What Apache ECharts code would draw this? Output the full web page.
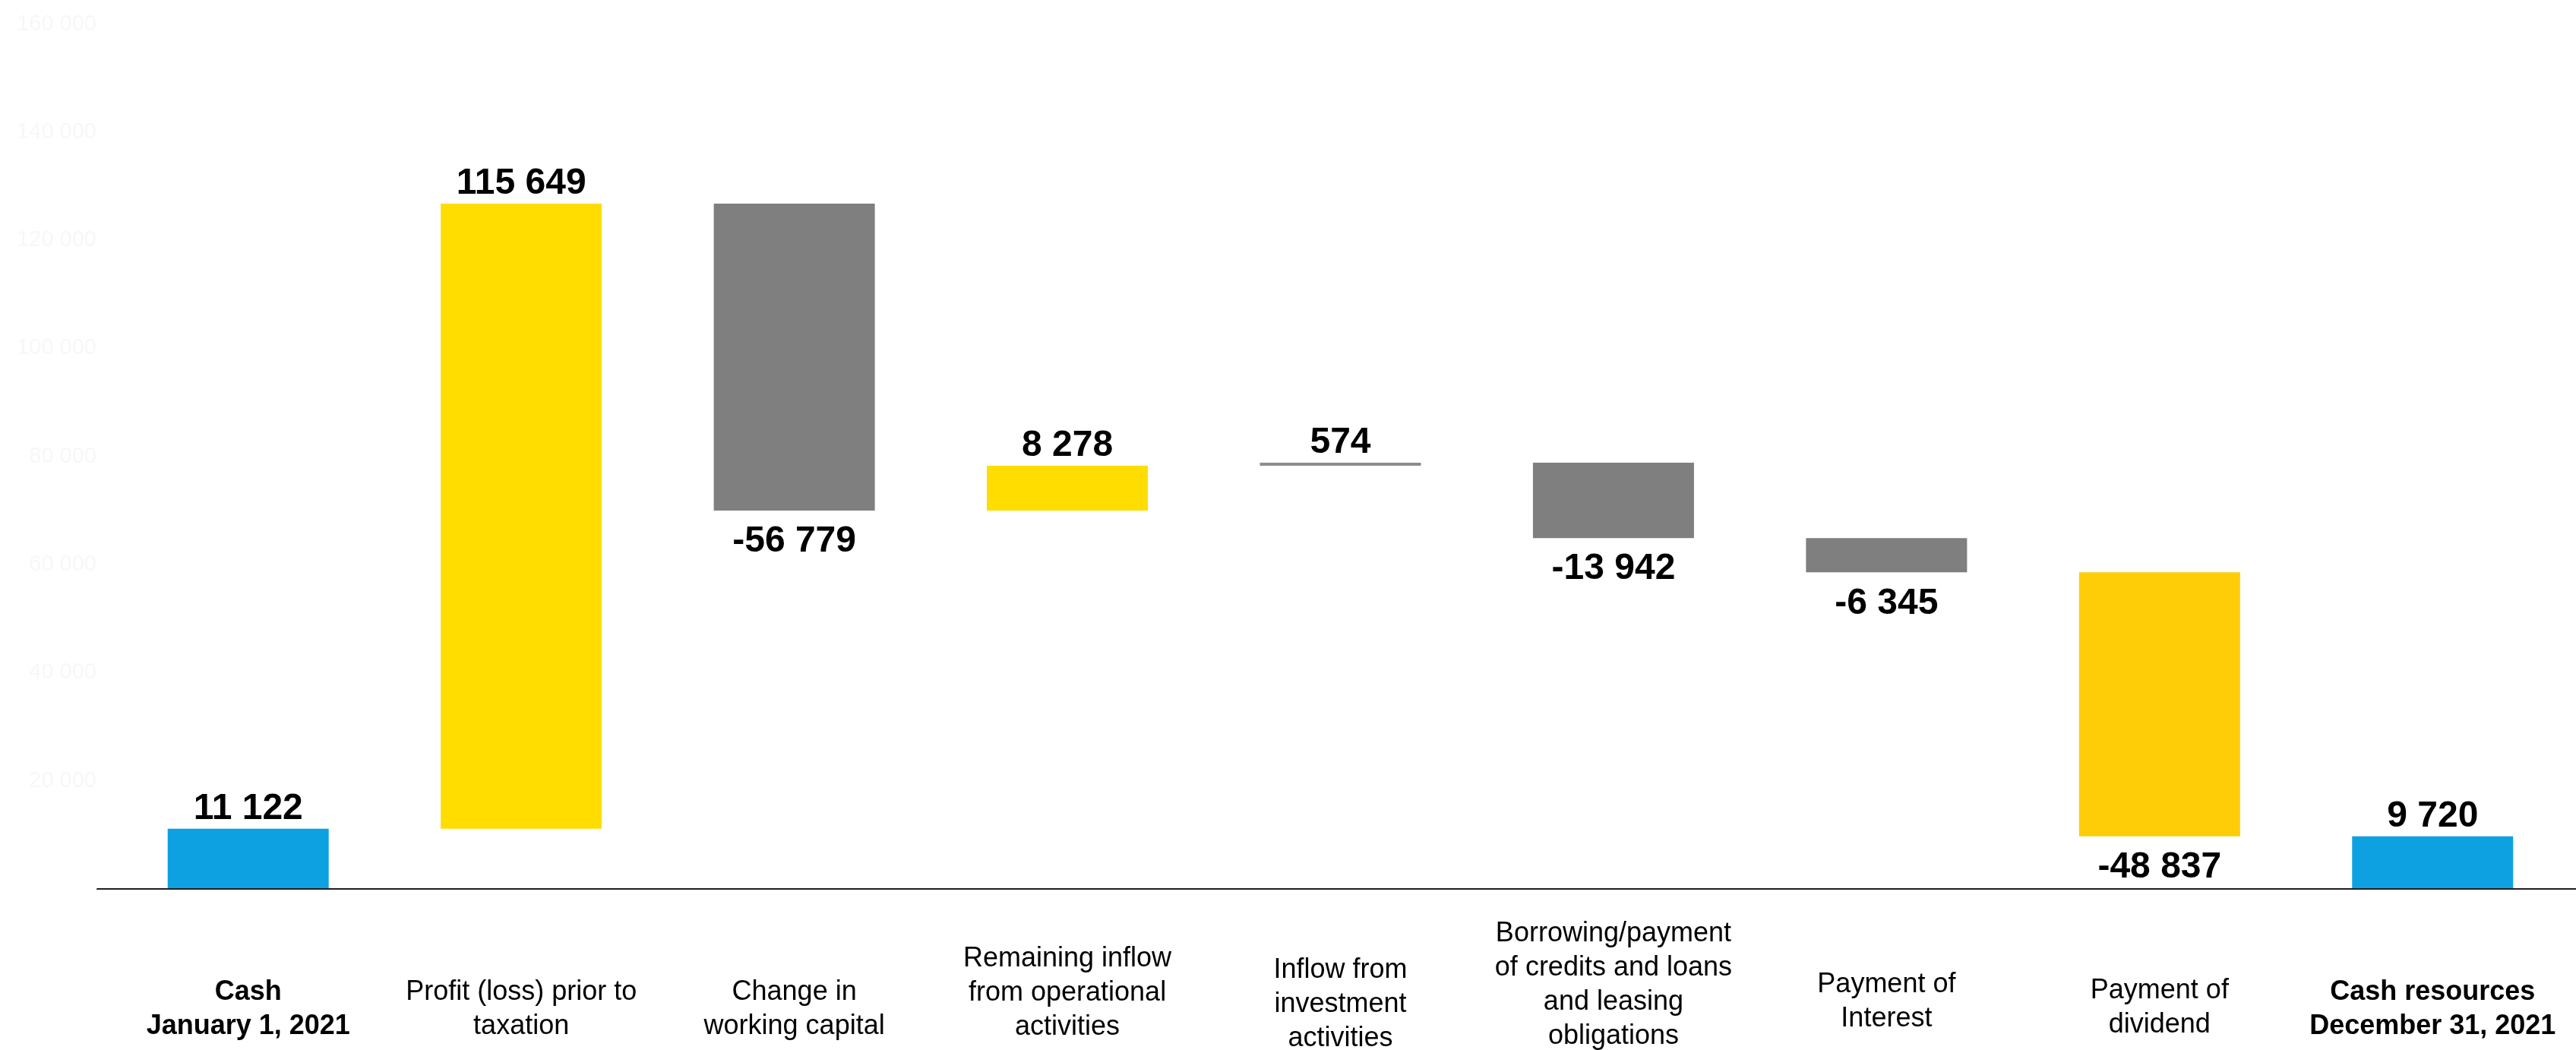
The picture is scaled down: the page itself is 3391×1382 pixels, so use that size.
<!DOCTYPE html>
<html>
<head>
<meta charset="utf-8">
<script src="https://cdn.jsdelivr.net/npm/echarts@6/dist/echarts.min.js"></script>
<style>
  html, body { margin: 0; padding: 0; background: #ffffff; }
  #chart { width: 3391px; height: 1382px; }
</style>
</head>
<body>
<div id="chart"></div>
<script>
// Cash flow bridge for 2021 (thousands)
const categories = [
  'Cash\nJanuary 1, 2021',
  'Profit (loss) prior to\ntaxation',
  'Change in\nworking capital',
  'Remaining inflow\nfrom operational\nactivities',
  'Inflow from\ninvestment\nactivities',
  'Borrowing/payment\nof credits and loans\nand leasing\nobligations',
  'Payment of\nInterest',
  'Payment of\ndividend',
  'Cash resources\nDecember 31, 2021'
];
const changes = [11122, 115649, -56779, 8278, 574, -13942, -6345, -48837, 9720];
const isTotal = [true, false, false, false, false, false, false, false, true];
const yTickValues = [0, 20000, 40000, 60000, 80000, 100000, 120000, 140000, 160000];

// Styling kept apart from the figures
const barColors = ['#0DA1E2', '#FFDD00', '#7F7F7F', '#FFDD00', '#8C8C8C', '#7F7F7F', '#7F7F7F', '#FFCC08', '#0DA1E2'];
const boldCategory = [true, false, false, false, false, false, false, false, true];
// extra space above each category caption, in px
const labelDrop = [77, 77, 77, 33, 48, 0, 67, 75, 77];

const FONT = '"Liberation Sans", Arial, sans-serif';

function fmt(n) {
  const s = Math.abs(n).toString().replace(/\B(?=(\d{3})+(?!\d))/g, ' ');
  return (n < 0 ? '-' : '') + s;
}

// Running total: each step floats between the previous and new balance
const baseData = [];
const stepData = [];
let running = 0;
changes.forEach((v, i) => {
  let base, height;
  if (isTotal[i]) {
    base = 0; height = v; running = v;
  } else if (v >= 0) {
    base = running; height = v; running += v;
  } else {
    running += v; base = running; height = -v;
  }
  baseData.push(base);
  stepData.push({
    value: height,
    signed: v,
    itemStyle: { color: barColors[i] },
    label: v >= 0 ? { position: 'top', distance: 2 } : { position: 'bottom', distance: 17 }
  });
});

const catData = categories.map((c, i) => ({
  value: c,
  textStyle: {
    fontWeight: boldCategory[i] ? 'bold' : 'normal',
    padding: [labelDrop[i], 0, 0, 0]
  }
}));

const TOP = 31.5, BOTTOM = 212;
const chart = echarts.init(document.getElementById('chart'), null, { renderer: 'canvas' });
chart.setOption({
  animation: false,
  backgroundColor: '#ffffff',
  grid: [
    { left: 147, right: 9, top: TOP, bottom: BOTTOM, containLabel: false, outerBoundsMode: 'none' },
    { left: 128, right: 0, top: TOP, bottom: BOTTOM, containLabel: false, outerBoundsMode: 'none' }
  ],
  xAxis: [
    {
      type: 'category', gridIndex: 0, data: catData,
      axisLine: { show: false }, axisTick: { show: false },
      axisLabel: {
        interval: 0, margin: 37, hideOverlap: false,
        fontFamily: FONT, fontSize: 36, lineHeight: 45, color: '#000000'
      }
    },
    {
      type: 'category', gridIndex: 1, data: [''], z: 10,
      axisLine: { show: true, lineStyle: { color: '#1e1e1e', width: 2 } },
      axisTick: { show: false }, axisLabel: { show: false }
    }
  ],
  yAxis: [
    {
      type: 'value', gridIndex: 0, min: 0, max: 160000, interval: 20000,
      show: false, splitLine: { show: false }
    },
    {
      type: 'value', gridIndex: 1, min: 0, max: 160000, interval: 20000,
      axisLine: { show: false }, axisTick: { show: false }, splitLine: { show: false },
      axisLabel: {
        showMinLabel: false, margin: 1,
        fontFamily: FONT, fontSize: 29, color: '#f7f7f7',
        formatter: v => yTickValues.includes(v) ? fmt(v) : ''
      }
    }
  ],
  series: [
    {
      type: 'bar', name: 'base', xAxisIndex: 0, yAxisIndex: 0, stack: 'flow',
      data: baseData, barWidth: 212,
      itemStyle: { color: 'transparent' }, silent: true
    },
    {
      type: 'bar', name: 'step', xAxisIndex: 0, yAxisIndex: 0, stack: 'flow',
      data: stepData, barWidth: 212,
      label: {
        show: true,
        fontFamily: FONT, fontSize: 48, fontWeight: 'bold', color: '#000000',
        formatter: p => fmt(p.data.signed)
      }
    }
  ]
});
</script>
</body>
</html>
